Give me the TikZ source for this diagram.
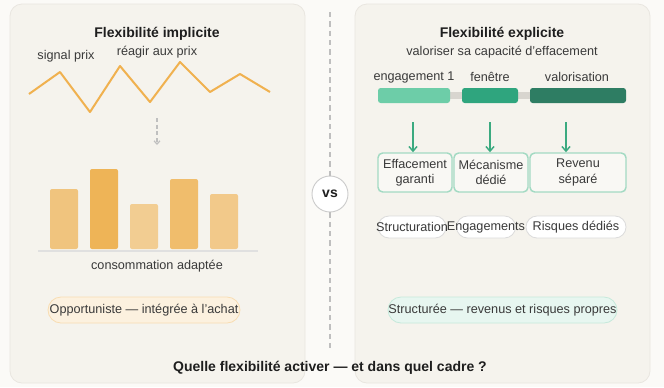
\documentclass[tikz,border=0pt]{standalone}
\usepackage{fontspec}
\setmainfont{Liberation Sans}
\usetikzlibrary{arrows.meta,positioning,calc}
\definecolor{pagebg}{HTML}{FBFAF7}
\definecolor{panelbg}{HTML}{F5F3ED}
\definecolor{panelline}{HTML}{E9E6E0}
\definecolor{ink}{HTML}{1E1E1E}
\definecolor{inkgray}{HTML}{3A3A3A}
\definecolor{sun}{HTML}{F0B14F}
\definecolor{mint}{HTML}{6DCDA8}
\definecolor{teal}{HTML}{2FA57E}
\definecolor{pine}{HTML}{2E7D63}
\definecolor{arrowgreen}{HTML}{3BAA80}
\definecolor{boxline}{HTML}{A3DAC3}
\definecolor{track}{HTML}{D8D5CF}

\begin{document}
\begin{tikzpicture}[
  x=0.75pt, y=-0.75pt,
  font=\fontsize{9.5}{11.5}\selectfont,
  panel/.style={draw=panelline, fill=panelbg, line width=0.6pt, rounded corners=9pt},
  ttl/.style={font=\fontsize{10.5}{12}\selectfont\bfseries, text=ink, inner sep=0pt},
  lbl/.style={text=inkgray, inner sep=0pt},
  seg/.style={fill=#1, rounded corners=2pt, minimum height=11.25pt, inner sep=0pt},
  outcome/.style={draw=boxline, line width=1.1pt, fill=panelbg!60!white,
                  rounded corners=3.5pt, minimum height=29.25pt, inner sep=0pt,
                  align=center, text=inkgray},
  tag/.style={draw=black!14, fill=white, line width=0.6pt, rounded corners=8.25pt,
              minimum height=16.5pt, inner sep=0pt},
  pill/.style={draw=#1!60!white, fill=#1!25!white, line width=0.6pt,
               rounded corners=9.75pt, minimum height=19.5pt, inner sep=0pt},
  garrow/.style={-{Straight Barb[length=3.5pt,width=6pt]}, arrowgreen, line width=1.1pt},
]
\useasboundingbox[fill=pagebg] (0,0) rectangle (664,387);

% Panels
\draw[panel] (10,4) rectangle (305,383);
\draw[panel] (355,4) rectangle (650,383);

% Implicit flexibility
\node[ttl] (ttlL) at (157,34) {Flexibilité implicite};
\node[lbl] (signal) at (66,56) {signal prix};
\node[lbl] (react) at (157,52) {réagir aux prix};
\draw[sun, line width=1.5pt, line join=round]
  (29,94) -- (60,72) -- (90,112) -- (120,66) -- (150,102)
  -- (180,62) -- (210,92) -- (240,74) -- (270,92);
\coordinate (dtop) at (157,118);
\coordinate (dbot) at (157,145);
\draw[black!25, line width=0.9pt, dash pattern=on 3pt off 2pt,
      -{Straight Barb[length=2.5pt,width=4.5pt]}] (dtop) -- (dbot);
\foreach \x/\h/\c in {50/189/F0C47E, 90/169/EEB457, 130/204/F2CD92,
                      170/179/F0BD6C, 210/194/F2C98A} {
  \definecolor{barfill}{HTML}{\c}
  \fill[barfill, rounded corners=1.5pt] (\x,249) rectangle ++(28,\h-249);
}
\draw[black!12, line width=1.2pt] (38,251) -- (258,251);
\node[lbl] (cons) at (157,266) {consommation adaptée};
\definecolor{apricot}{HTML}{F3C77E}
\node[pill=apricot, minimum width=144pt] (oppo) at (144,310) {};
\node[lbl] at (oppo) {Opportuniste — intégrée à l'achat};

% Divider
\node[circle, draw=black!20, fill=white, line width=0.7pt, minimum size=27pt,
      inner sep=0pt, font=\fontsize{10.5}{12}\selectfont\bfseries, text=ink] (vs) at (330,194) {vs};
\coordinate (divtop) at (330,12);
\coordinate (divbot) at (330,352);
\draw[black!25, line width=0.8pt, dash pattern=on 4pt off 3pt] (divtop) -- (vs.north);
\draw[black!25, line width=0.8pt, dash pattern=on 4pt off 3pt] (vs.south) -- (divbot);

% Explicit flexibility
\node[ttl] (ttlR) at (502,34) {Flexibilité explicite};
\node[lbl] (sub) at (502,52) {valoriser sa capacité d'effacement};
\node[lbl] (l1) at (414,77) {engagement 1};
\node[lbl] (l2) at (490,77) {fenêtre};
\node[lbl] (l3) at (577,77) {valorisation};
\fill[track] (380,92) rectangle (624,99);
\node[seg=mint, minimum width=54pt] (s1) at (414,95.5) {};
\node[seg=teal, minimum width=42pt] (s2) at (490,95.5) {};
\node[seg=pine, minimum width=72pt] (s3) at (578,95.5) {};

\node[outcome, minimum width=55.5pt] (b1) at (415,172.5) {Effacement\\garanti};
\node[outcome, minimum width=55.5pt] (b2) at (491,172.5) {Mécanisme\\dédié};
\node[outcome, minimum width=72pt] (b3) at (578,172.5) {Revenu\\séparé};
\coordinate (a1) at (413,122);
\coordinate (a2) at (490,122);
\coordinate (a3) at (566,122);
\draw[garrow] (a1) -- (a1 |- b1.north);
\draw[garrow] (a2) -- (a2 |- b2.north);
\draw[garrow] (a3) -- (a3 |- b3.north);

\node[tag, minimum width=51pt] (t1) at (412,227) {};
\node[tag, minimum width=44.25pt] (t2) at (486,227) {};
\node[tag, minimum width=75pt] (t3) at (576,227) {};
\node[lbl] at (t1) {Structuration};
\node[lbl] at (t2) {Engagements};
\node[lbl] at (t3) {Risques dédiés};

\definecolor{seafoam}{HTML}{9FDBC3}
\node[pill=seafoam, minimum width=171.75pt] (struct) at (502.5,310) {};
\node[lbl] at (struct) {Structurée — revenus et risques propres};

% Question
\node[ttl] (quest) at (330,368) {Quelle flexibilité activer — et dans quel cadre ?};
\end{tikzpicture}
\end{document}
